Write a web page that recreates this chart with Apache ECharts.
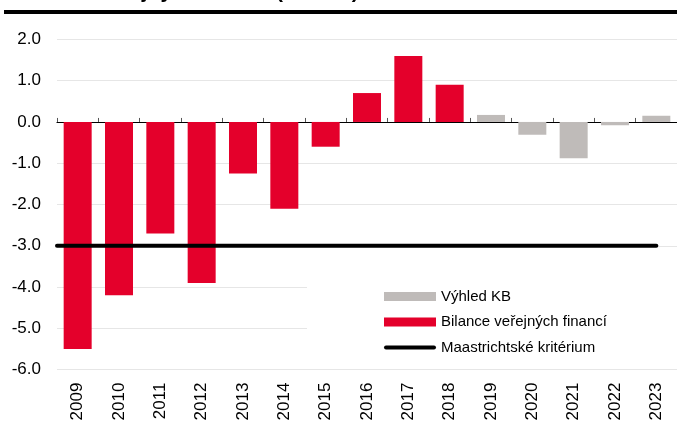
<!DOCTYPE html>
<html>
<head>
<meta charset="utf-8">
<script src="https://cdn.jsdelivr.net/npm/echarts@6/dist/echarts.min.js"></script>
<style>
  html, body { margin: 0; padding: 0; background: #fff; }
  #chart { width: 677px; height: 424px; }
</style>
</head>
<body>
<div id="chart"></div>
<script>
var years = ['2009','2010','2011','2012','2013','2014','2015','2016','2017','2018','2019','2020','2021','2022','2023'];
// Bilance veřejných financí (% HDP)
var balance = [-5.5, -4.2, -2.7, -3.9, -1.25, -2.1, -0.6, 0.7, 1.6, 0.9, null, null, null, null, null];
// Výhled KB
var outlook = [null, null, null, null, null, null, null, null, null, null, 0.17, -0.31, -0.88, -0.08, 0.15];
// Maastrichtské kritérium
var limit = -3;
var yMin = -6, yMax = 2, yStep = 1;

var font = 'Liberation Sans, Arial, sans-serif';

function chart(){
    var myChart = echarts.init(document.getElementById('chart'));
    var option = {
        animation: false,
        textStyle: { fontFamily: font },
        graphic: [
            {
                type: 'text',
                left: 18,
                top: -18,
                style: {
                    text: 'Bilance veřejných financí (% HDP)',
                    font: 'bold 21px ' + font,
                    fill: '#000'
                }
            },
            {
                type: 'rect',
                shape: { x: 4, y: 10, width: 680, height: 4 },
                style: { fill: '#000' }
            }
        ],
        grid: { left: 57, width: 622, top: 39.4, height: 330.2 },
        legend: {
            orient: 'vertical',
            left: 307,
            top: 279,
            padding: [10, 300, 10, 77],
            backgroundColor: '#fff',
            itemWidth: 52,
            itemHeight: 9,
            itemGap: 10.5,
            symbolKeepAspect: true,
            data: [
                { name: 'Výhled KB', icon: 'rect' },
                { name: 'Bilance veřejných financí', icon: 'rect' },
                { name: 'Maastrichtské kritérium', icon: 'path://M2,0 H50 A2,2 0 0 1 50,4 H2 A2,2 0 0 1 2,0 Z' }
            ],
            textStyle: { fontSize: 15, color: '#000', fontFamily: font }
        },
        xAxis: [
            {
                type: 'category',
                data: years,
                position: 'bottom',
                axisLine: { show: false, onZero: false },
                axisTick: { show: false },
                axisLabel: { rotate: 90, fontSize: 17, color: '#000', margin: 13, fontFamily: font }
            },
            {
                type: 'category',
                data: years,
                axisLine: { onZero: true, lineStyle: { color: '#000', width: 1.2 } },
                axisTick: { show: true, length: 4, lineStyle: { color: '#555' } },
                axisLabel: { show: false }
            },
            {
                type: 'value',
                min: 0,
                max: years.length,
                show: false
            }
        ],
        yAxis: {
            type: 'value',
            min: yMin,
            max: yMax,
            interval: yStep,
            axisLine: { show: false },
            axisTick: { show: false },
            splitLine: { lineStyle: { color: '#e6e6e6', width: 1 } },
            axisLabel: {
                fontSize: 17,
                color: '#000',
                margin: 16,
                fontFamily: font,
                formatter: function (v) { return v.toFixed(1); }
            }
        },
        series: [
            {
                name: 'Bilance veřejných financí',
                type: 'bar',
                xAxisIndex: 0,
                data: balance,
                barWidth: 28,
                barGap: '-100%',
                itemStyle: { color: '#e4002b' }
            },
            {
                name: 'Výhled KB',
                type: 'bar',
                xAxisIndex: 0,
                data: outlook,
                barWidth: 28,
                barGap: '-100%',
                itemStyle: { color: '#bfbbb9' }
            },
            {
                name: 'Maastrichtské kritérium',
                type: 'line',
                xAxisIndex: 2,
                data: [[0, limit], [years.length - 0.5, limit]],
                symbol: 'none',
                lineStyle: { color: '#000', width: 4, cap: 'round' },
                itemStyle: { color: '#000' },
                z: 5
            }
        ]
    };
    myChart.setOption(option);
}

chart();
</script>
</body>
</html>
